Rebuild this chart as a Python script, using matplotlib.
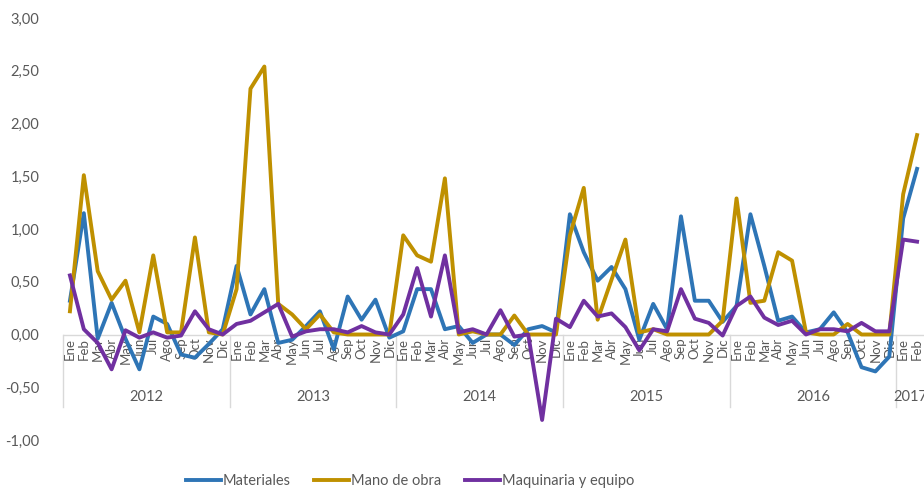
import matplotlib
matplotlib.use("Agg")
import matplotlib.pyplot as plt
from matplotlib.ticker import FuncFormatter

# datos mensuales, Ene 2012 - Feb 2017
meses = ["Ene", "Feb", "Mar", "Abr", "May", "Jun", "Jul", "Ago", "Sep", "Oct", "Nov", "Dic"]
anios = ["2012", "2013", "2014", "2015", "2016", "2017"]

materiales = [
    0.32, 1.15, -0.04, 0.30, -0.04, -0.33, 0.17, 0.10, -0.19, -0.22, -0.09, 0.05,
    0.65, 0.19, 0.43, -0.08, -0.05, 0.08, 0.22, -0.14, 0.36, 0.14, 0.33, -0.03,
    0.03, 0.43, 0.43, 0.05, 0.08, -0.08, 0.00, 0.00, -0.10, 0.05, 0.08, 0.02,
    1.14, 0.78, 0.51, 0.64, 0.43, -0.05, 0.29, 0.05, 1.12, 0.32, 0.32, 0.12,
    0.27, 1.14, 0.65, 0.13, 0.17, 0.02, 0.05, 0.21, 0.02, -0.31, -0.35, -0.21,
    1.10, 1.57,
]
mano_obra = [
    0.22, 1.51, 0.60, 0.33, 0.51, 0.02, 0.75, 0.02, 0.02, 0.92, 0.02, 0.00,
    0.43, 2.33, 2.54, 0.29, 0.19, 0.05, 0.19, 0.02, 0.00, 0.00, 0.00, 0.00,
    0.94, 0.75, 0.69, 1.48, 0.00, 0.03, 0.00, 0.00, 0.18, 0.00, 0.00, 0.00,
    0.94, 1.39, 0.14, 0.52, 0.90, 0.02, 0.05, 0.00, 0.00, 0.00, 0.00, 0.13,
    1.29, 0.30, 0.32, 0.78, 0.70, 0.02, 0.00, 0.00, 0.10, 0.00, 0.00, 0.00,
    1.33, 1.89,
]
maquinaria = [
    0.56, 0.05, -0.08, -0.33, 0.04, -0.03, 0.02, -0.03, -0.01, 0.22, 0.05, 0.00,
    0.10, 0.13, 0.21, 0.29, -0.02, 0.03, 0.05, 0.05, 0.02, 0.08, 0.02, 0.00,
    0.19, 0.63, 0.17, 0.75, 0.02, 0.05, 0.00, 0.23, -0.02, 0.00, -0.81, 0.15,
    0.07, 0.32, 0.17, 0.20, 0.07, -0.15, 0.05, 0.03, 0.43, 0.15, 0.11, -0.01,
    0.27, 0.36, 0.16, 0.09, 0.13, 0.00, 0.05, 0.05, 0.03, 0.11, 0.03, 0.03,
    0.90, 0.88,
]

n = len(materiales)
x = list(range(n))
gris = "#595959"

plt.rcParams["font.family"] = ["Lato", "DejaVu Sans"]

fig = plt.figure(figsize=(9.24, 4.91), dpi=100)
ax = fig.add_axes([63 / 924, 51 / 491, 1 - 63 / 924, (440 - 18) / 491])

ax.plot(x, materiales, color="#2E75B6", lw=2.8, label="Materiales")
ax.plot(x, mano_obra, color="#BF9000", lw=2.8, label="Mano de obra")
ax.plot(x, maquinaria, color="#7030A0", lw=2.8, label="Maquinaria y equipo")

ax.set_xlim(-0.5, n - 0.5)
ax.set_ylim(-1, 3)
ax.set_yticks([-1, -0.5, 0, 0.5, 1, 1.5, 2, 2.5, 3])
ax.yaxis.set_major_formatter(FuncFormatter(lambda v, p: f"{v:.2f}".replace(".", ",")))
ax.tick_params(axis="y", length=0, pad=17, labelsize=10.5, labelcolor=gris)
ax.set_xticks([])
for s in ax.spines.values():
    s.set_visible(False)

# eje de categorias en y=0
ax.axhline(0, color="#D9D9D9", lw=1, zorder=0)
for i in x:
    ax.text(i, -0.03, meses[i % 12], rotation=90, ha="center", va="top",
            fontsize=9.5, color=gris, zorder=0.5)
for k, a in enumerate(anios):
    ini = k * 12 - 0.5
    ax.plot([ini, ini], [0, -0.69], color="#D9D9D9", lw=1, clip_on=False, zorder=0)
    fin = min(ini + 12, n - 0.5)
    ax.text((ini + fin) / 2 if k < 5 else ini + 1.0, -0.59, a, ha="center", va="center",
            fontsize=10.5, color=gris, clip_on=False)

fig.legend(loc="center", bbox_to_anchor=(410 / 924, 1 - 481 / 491), ncol=3,
           frameon=False, fontsize=10.5, handlelength=2.4, handletextpad=0.15,
           columnspacing=1.6, labelcolor=gris)

fig.savefig("out.png", dpi=100)
